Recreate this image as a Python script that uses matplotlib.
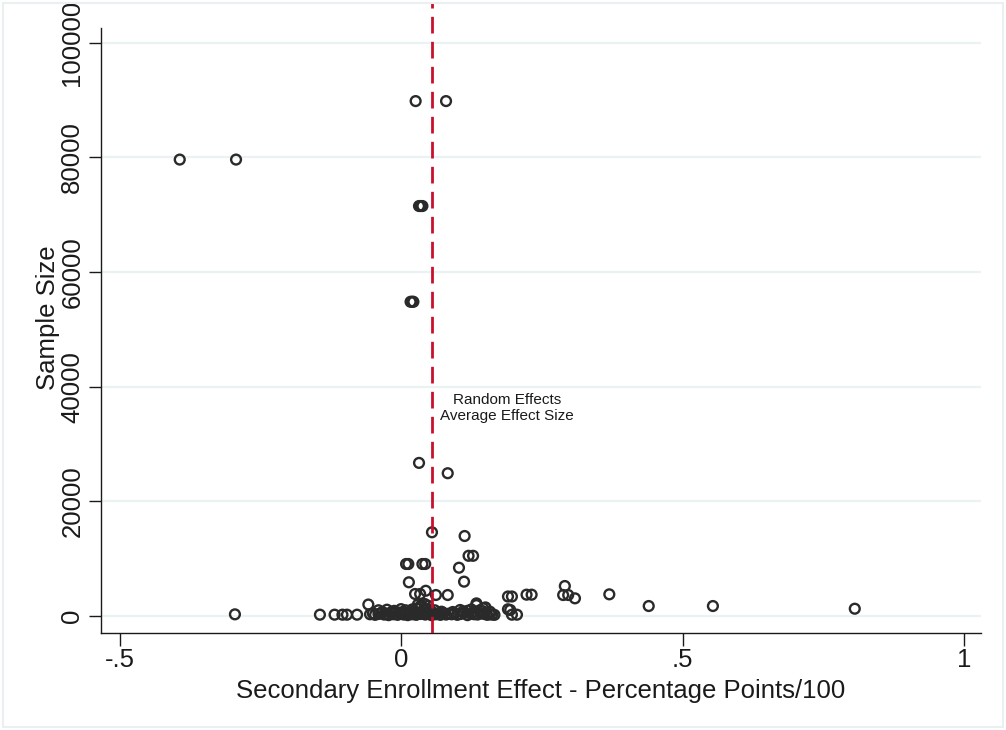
import matplotlib
matplotlib.use("Agg")
import matplotlib.pyplot as plt
from matplotlib.patches import Rectangle

plt.rcParams['font.family'] = ['Liberation Sans', 'DejaVu Sans']

# ---- data: (effect size, sample size) ----
effect = [
    -0.393, -0.293,
    0.026, 0.080,
    0.032, 0.035, 0.038,
    0.017, 0.020, 0.022,
    0.032, 0.083,
    0.055, 0.113,
    0.120, 0.128,
    0.009, 0.013, 0.038, 0.043,
    0.103,
    0.014, 0.112,
    0.025, 0.034, 0.044,
    0.062, 0.083,
    0.190, 0.197,
    0.223, 0.232,
    0.291, 0.288, 0.297, 0.309,
    0.370, 0.440, 0.554, 0.806,
    -0.058,
    -0.295, -0.144, -0.118, -0.104, -0.096, -0.078,
    0.134, 0.150, 0.190, 0.197, 0.206,
    0.030, 0.036, 0.042, 0.048, 0.035, 0.045,
    0.134, 0.146, 0.158, 0.194,
    -0.055, -0.050, -0.046, -0.040, -0.035, -0.030, -0.027, -0.022, -0.018,
    -0.013, -0.010, -0.006, -0.002, 0.002, 0.005, 0.009, 0.012, 0.016,
    0.020, 0.024, 0.027, 0.031, 0.035, 0.039, 0.043, 0.047, 0.050,
    0.054, 0.058, 0.062, 0.066, 0.070, 0.075, 0.080, 0.085, 0.090,
    0.095, 0.100, 0.106, 0.112, 0.118, 0.124, 0.130, 0.136, 0.142,
    0.148, 0.153, 0.158, 0.162, 0.166,
    -0.040, -0.025, -0.012, 0.000, 0.008, 0.020, 0.028, 0.040, 0.052,
    0.060, 0.105, 0.118, 0.125, 0.140, 0.145,
    -0.033, -0.016, 0.004, 0.018, 0.037, 0.056, 0.072, 0.092, 0.110, 0.128,
]
sample = [
    79600, 79600,
    89800, 89800,
    71500, 71500, 71500,
    54800, 54800, 54800,
    26700, 24900,
    14600, 13950,
    10500, 10500,
    9070, 9070, 9070, 9070,
    8420,
    5880, 5990,
    3840, 3840, 4400,
    3660, 3660,
    3400, 3400,
    3720, 3720,
    5230, 3660, 3660, 3080,
    3780, 1740, 1740, 1270,
    2000,
    290, 230, 230, 230, 230, 230,
    2200, 1500, 1170, 230, 230,
    2000, 1900, 2100, 1800, 1500, 1300,
    1900, 1340, 750, 1050,
    300, 450, 200, 350, 500, 250, 400, 150, 550,
    300, 450, 200, 600, 350, 250, 500, 150, 400,
    300, 550, 200, 450, 350, 600, 250, 400, 500,
    150, 350, 300, 450, 200, 550, 250, 400, 300,
    450, 200, 350, 500, 150, 400, 300, 250, 450,
    350, 200, 300, 250, 200,
    1000, 1100, 900, 1200, 1000, 1150, 1300, 1100, 950,
    1000, 1050, 900, 1150, 1000, 850,
    700, 750, 650, 800, 700, 650, 750, 700, 800, 650,
]

re_average = 0.0557
annot_text = "Random Effects\nAverage Effect Size"
x_ticks = [-0.5, 0, 0.5, 1]
x_tick_labels = ["-.5", "0", ".5", "1"]
y_ticks = [0, 20000, 40000, 60000, 80000, 100000]
y_tick_labels = ["0", "20000", "40000", "60000", "80000", "100000"]

W, H = 1006, 730
fig = plt.figure(figsize=(W / 100, H / 100), dpi=100)
fig.patch.set_facecolor('white')

# outer light frame
fig.patches.append(Rectangle((3 / W, 3 / H), 1000 / W, 724 / H, transform=fig.transFigure,
                             fill=False, edgecolor='#eaf0f2', linewidth=1.5))

left_px, right_px, top_px, bot_px = 101, 981, 2, 633
ax = fig.add_axes([left_px / W, 1 - bot_px / H, (right_px - left_px) / W, (bot_px - top_px) / H])
ax.set_facecolor('none')

ppu = 573.4 / 100000.0  # px per unit
y0px = 616
ax.set_ylim(-(bot_px - y0px) / ppu, (y0px - top_px) / ppu)
x_per_px = 1 / 563.0
ax.set_xlim((left_px - 401) * x_per_px, (right_px - 401) * x_per_px)

for yv in y_ticks:
    ax.axhline(yv, color='#eaf2f3', linewidth=1.6, zorder=0)

ax.scatter(effect, sample, s=50, facecolors='none', edgecolors='#2a2a2a', linewidths=1.7, zorder=3)

ax.axvline(re_average, color='#c8102e', linewidth=2.0, linestyle=(0, (6, 3)), zorder=4,
           ymin=0, ymax=1)

ax.text(0.188, 36300, annot_text, ha='center', va='center', fontsize=11, color='#1a1a1a',
        linespacing=1.12)

ax.spines['top'].set_visible(False)
ax.spines['right'].set_visible(False)
ax.spines['left'].set_bounds(-(bot_px - y0px) / ppu, (y0px - 28) / ppu)
for s in ['left', 'bottom']:
    ax.spines[s].set_color('#1a1a1a')
    ax.spines[s].set_linewidth(1.0)

ax.set_xticks(x_ticks)
ax.set_xticklabels(x_tick_labels)
ax.set_yticks(y_ticks)
ax.set_yticklabels(y_tick_labels, rotation=90, va='center')
ax.tick_params(axis='both', labelsize=18.5, length=9, width=1.0, color='#1a1a1a', labelcolor='#1a1a1a')
ax.tick_params(axis='x', pad=2)
ax.tick_params(axis='y', pad=3)

ax.set_xlabel("Secondary Enrollment Effect - Percentage Points/100", fontsize=18.5, color='#1a1a1a', labelpad=5)
ax.set_ylabel("Sample Size", fontsize=18.5, color='#1a1a1a', labelpad=0)

fig.savefig("out.png", dpi=100)
